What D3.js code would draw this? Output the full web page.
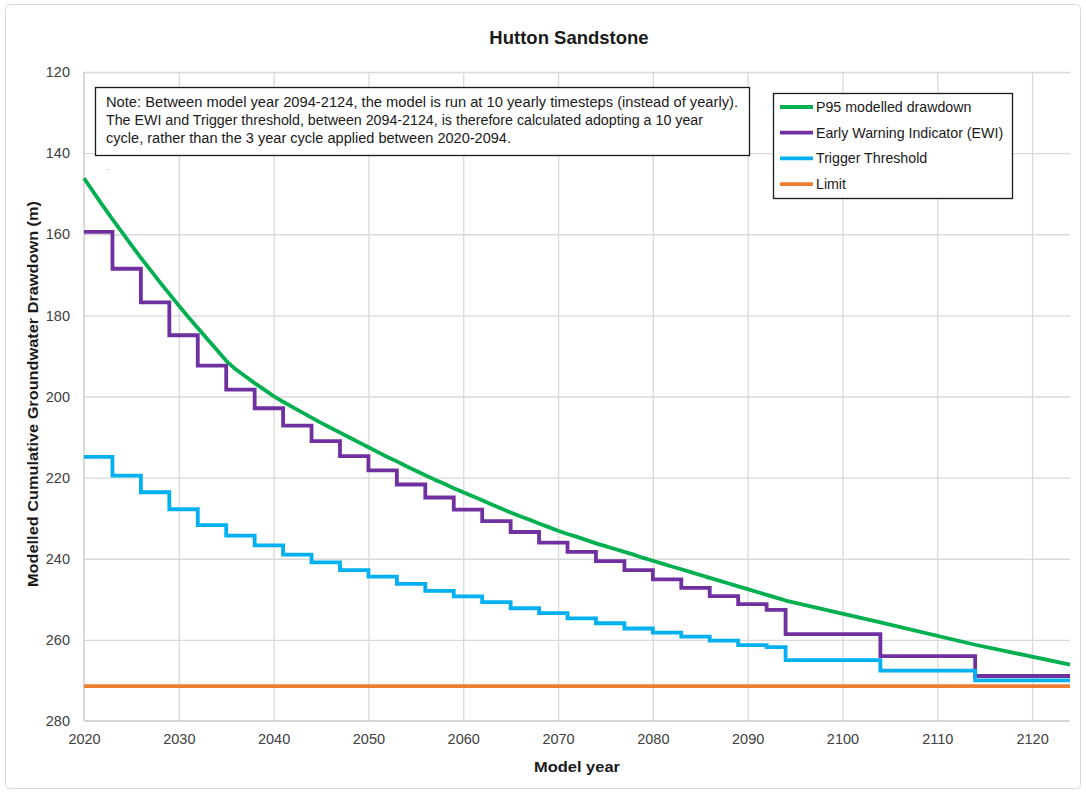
<!DOCTYPE html>
<html><head><meta charset="utf-8">
<script src="https://cdn.jsdelivr.net/npm/d3@7"></script>
<style>
body{margin:0;background:#fff;}
text{font-family:"Liberation Sans",Arial,sans-serif;}
</style>
</head><body>
<svg id="c" width="1086" height="793"></svg>
<script>
// ---------- DATA ----------
const chartTitle = "Hutton Sandstone";
const xTitle = "Model year";
const yTitle = "Modelled Cumulative Groundwater Drawdown (m)";
const xTicks = [2020,2030,2040,2050,2060,2070,2080,2090,2100,2110,2120];
const yTicks = [120,140,160,180,200,220,240,260,280];
const seriesNames = ["P95 modelled drawdown","Early Warning Indicator (EWI)","Trigger Threshold","Limit"];
const noteLines = [
  "Note: Between model year 2094-2124, the model is run at 10 yearly timesteps (instead of yearly).",
  "The EWI and Trigger threshold, between 2094-2124, is therefore calculated adopting a 10 year",
  "cycle, rather than the 3 year cycle applied between 2020-2094."
];

const p95Years = [2020,2021,2022,2023,2024,2025,2026,2027,2028,2029,2030,2031,2032,2033,2034,2035,2036,2037,2038,2039,
  2040,2041,2042,2043,2044,2045,2046,2047,2048,2049,2050,2051,2052,2053,2054,2055,2056,2057,2058,2059,
  2060,2061,2062,2063,2064,2065,2066,2067,2068,2069,2070,2071,2072,2073,2074,2075,2076,2077,2078,2079,
  2080,2081,2082,2083,2084,2085,2086,2087,2088,2089,2090,2091,2092,2093,2094,2104,2114,2124];
const p95Values = [146.2,149.6,153.0,156.3,159.5,162.7,165.8,168.8,171.8,174.7,177.6,180.4,183.1,185.8,188.5,191.2,193.3,195.0,196.7,198.3,
  199.9,201.3,202.6,203.9,205.2,206.5,207.7,208.9,210.1,211.3,212.5,213.7,214.9,216.0,217.2,218.3,219.4,220.5,221.5,222.6,
  223.6,224.6,225.6,226.6,227.6,228.6,229.5,230.4,231.3,232.2,233.1,233.9,234.6,235.4,236.2,236.9,237.6,238.3,239.0,239.8,
  240.5,241.2,241.9,242.6,243.3,244.0,244.7,245.4,246.1,246.8,247.5,248.2,248.9,249.6,250.3,255.7,261.2,266.1];

const stepYears = [2020,2023,2026,2029,2032,2035,2038,2041,2044,2047,2050,2053,2056,2059,2062,2065,2068,2071,2074,2077,
  2080,2083,2086,2089,2092,2094,2104,2114,2124];
const ewiValues = [159.4,168.5,176.8,184.9,192.4,198.3,202.9,207.2,211.0,214.7,218.2,221.7,224.9,227.9,230.7,233.4,236.0,238.3,240.6,242.8,
  245.1,247.2,249.2,251.2,252.6,258.6,264.0,268.9,268.9];
const triggerValues = [214.9,219.5,223.6,227.8,231.7,234.3,236.7,239.0,240.9,242.8,244.4,246.2,247.9,249.3,250.7,252.2,253.4,254.7,255.9,257.2,
  258.2,259.2,260.2,261.3,261.8,265.0,267.6,270.0,270.0];

const limitYears = [2020,2124];
const limitValues = [271.4,271.4];

const colors = ["#00B050","#7030A0","#00B0F0","#ED7D31"];

// ---------- CHART ----------
const svg = d3.select("#c");
const L = 84, R = 1070, T = 72, B = 721;
const x = d3.scaleLinear().domain([2020,2124]).range([L,R]);
const y = d3.scaleLinear().domain([120,280]).range([T,B]);

// outer border
svg.append("rect").attr("x",5.5).attr("y",4.5).attr("width",1075).attr("height",784)
  .attr("rx",4).attr("fill","#fff").attr("stroke","#d9d9d9").attr("stroke-width",1);

// gridlines
const grid = svg.append("g");
grid.append("g").attr("transform",`translate(0,${B})`)
  .call(d3.axisBottom(x).tickValues(xTicks.slice(1)).tickSize(-(B-T)).tickFormat(""))
  .call(g=>g.select(".domain").remove())
  .call(g=>g.selectAll("line").attr("stroke","#d9d9d9").attr("stroke-width",1.3));
grid.append("g").attr("transform",`translate(${L},0)`)
  .call(d3.axisLeft(y).tickValues(yTicks.slice(0,-1)).tickSize(-(R-L)).tickFormat(""))
  .call(g=>g.select(".domain").remove())
  .call(g=>g.selectAll("line").attr("stroke","#d9d9d9").attr("stroke-width",1.3));

// axis lines
svg.append("line").attr("x1",L).attr("x2",L).attr("y1",T).attr("y2",B).attr("stroke","#c8c8c8").attr("stroke-width",1.3);
svg.append("line").attr("x1",L).attr("x2",R).attr("y1",B).attr("y2",B).attr("stroke","#c8c8c8").attr("stroke-width",1.3);

// tick labels
const xa = svg.append("g").attr("transform",`translate(0,${B})`)
  .call(d3.axisBottom(x).tickValues(xTicks).tickSize(0).tickPadding(13).tickFormat(d3.format("d")));
xa.select(".domain").remove();
xa.selectAll("text").attr("font-size",14.5).attr("fill","#404040").attr("font-family","Liberation Sans, Arial, sans-serif");
const ya = svg.append("g").attr("transform",`translate(${L},0)`)
  .call(d3.axisLeft(y).tickValues(yTicks).tickSize(0).tickPadding(14).tickFormat(d3.format("d")));
ya.select(".domain").remove();
ya.selectAll("text").attr("font-size",14.5).attr("fill","#404040").attr("font-family","Liberation Sans, Arial, sans-serif");

// series
const lineSmooth = d3.line().x(d=>x(d[0])).y(d=>y(d[1]));
const lineStep = d3.line().x(d=>x(d[0])).y(d=>y(d[1])).curve(d3.curveStepAfter);
const p95 = p95Years.map((yr,i)=>[yr,p95Values[i]]);
const ewi = stepYears.map((yr,i)=>[yr,ewiValues[i]]);
const trig = stepYears.map((yr,i)=>[yr,triggerValues[i]]);
const lim = limitYears.map((yr,i)=>[yr,limitValues[i]]);

svg.append("path").datum(p95).attr("d",lineSmooth).attr("fill","none").attr("stroke",colors[0]).attr("stroke-width",3.8).attr("stroke-linejoin","round");
svg.append("path").datum(ewi).attr("d",lineStep).attr("fill","none").attr("stroke",colors[1]).attr("stroke-width",3.8);
svg.append("path").datum(trig).attr("d",lineStep).attr("fill","none").attr("stroke",colors[2]).attr("stroke-width",3.8);
svg.append("path").datum(lim).attr("d",lineSmooth).attr("fill","none").attr("stroke",colors[3]).attr("stroke-width",3.8);

// titles
svg.append("text").attr("x",569).attr("y",37).attr("text-anchor","middle").attr("dominant-baseline","central")
  .attr("font-size",18.5).attr("font-weight","bold").attr("fill","#1a1a1a").text(chartTitle);
svg.append("text").attr("x",577).attr("y",766).attr("text-anchor","middle").attr("dominant-baseline","central")
  .attr("font-size",15.5).attr("font-weight","bold").attr("fill","#1a1a1a")
  .attr("textLength",86).attr("lengthAdjust","spacingAndGlyphs").text(xTitle);
svg.append("text").attr("transform","translate(32,394) rotate(-90)").attr("text-anchor","middle").attr("dominant-baseline","central")
  .attr("font-size",15.5).attr("font-weight","bold").attr("fill","#1a1a1a")
  .attr("textLength",386).attr("lengthAdjust","spacingAndGlyphs").text(yTitle);

// note box
svg.append("rect").attr("x",95.5).attr("y",87.5).attr("width",654).attr("height",68)
  .attr("fill","#fff").attr("stroke","#1a1a1a").attr("stroke-width",1.3);
const noteLens = [632,597,405];
noteLines.forEach((t,i)=>{
  svg.append("text").attr("x",106).attr("y",102+i*18).attr("dominant-baseline","central")
    .attr("font-size",14).attr("fill","#1a1a1a")
    .attr("textLength",noteLens[i]).attr("lengthAdjust","spacingAndGlyphs").text(t);
});
svg.append("text").attr("x",107).attr("y",170).attr("font-size",8).attr("fill","#333").text(".");

// legend
const lg = svg.append("g");
lg.append("rect").attr("x",773.5).attr("y",93.5).attr("width",239).attr("height",105)
  .attr("fill","#fff").attr("stroke","#1a1a1a").attr("stroke-width",1.3);
seriesNames.forEach((n,i)=>{
  const yy = 107 + i*25.7;
  lg.append("line").attr("x1",780).attr("x2",813).attr("y1",yy).attr("y2",yy)
    .attr("stroke",colors[i]).attr("stroke-width",3.8);
  lg.append("text").attr("x",816).attr("y",yy).attr("dominant-baseline","central")
    .attr("font-size",14.2).attr("fill","#1a1a1a").text(n);
});
</script>
</body></html>
